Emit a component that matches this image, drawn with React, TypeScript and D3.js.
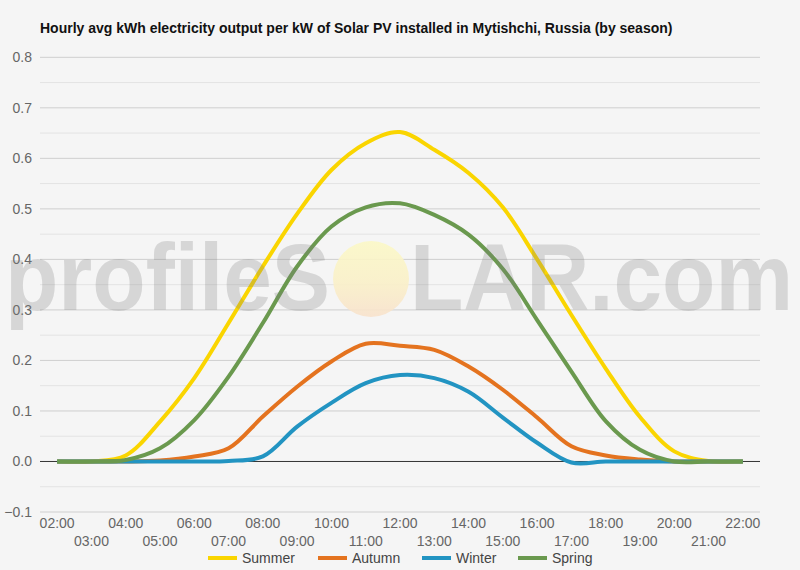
import React from "react";
import * as d3 from "d3";

const hours = ["02:00","03:00","04:00","05:00","06:00","07:00","08:00","09:00","10:00","11:00","12:00","13:00","14:00","15:00","16:00","17:00","18:00","19:00","20:00","21:00","22:00"];

const summer = [0, 0, 0.012, 0.079, 0.165, 0.274, 0.386, 0.49, 0.577, 0.63, 0.652, 0.617, 0.571, 0.503, 0.4, 0.29, 0.184, 0.088, 0.02, 0.001, 0];
const autumn = [0, 0, 0, 0.002, 0.01, 0.026, 0.089, 0.148, 0.198, 0.233, 0.229, 0.221, 0.188, 0.142, 0.087, 0.03, 0.012, 0.004, 0, 0, 0];
const winter = [0, 0, 0, 0, 0, 0.001, 0.01, 0.069, 0.116, 0.155, 0.171, 0.165, 0.138, 0.087, 0.037, -0.002, 0, 0, 0, 0, 0];
const spring = [0, 0, 0.003, 0.026, 0.082, 0.168, 0.274, 0.386, 0.465, 0.503, 0.511, 0.488, 0.449, 0.381, 0.28, 0.178, 0.08, 0.023, 0, 0, 0];

const seriesNames = ["Summer", "Autumn", "Winter", "Spring"];
const seriesColors = ["#fad500", "#e4731f", "#2294c2", "#6a994e"];
const seriesData = [summer, autumn, winter, spring];

const yMajorTicks = [-0.1, 0, 0.1, 0.2, 0.3, 0.4, 0.5, 0.6, 0.7, 0.8];
const yMinorTicks = [-0.05, 0.05, 0.15, 0.25, 0.35, 0.45, 0.55, 0.65, 0.75];

const title = "Hourly avg kWh electricity output per kW of Solar PV installed in Mytishchi, Russia (by season)";

const W = 800, H = 570;
const left = 40, right = 760, top = 57.3, bottom = 512;

export default function App() {
  const x = d3.scaleBand<string>().domain(hours).range([left, right]);
  const cx = (h: string) => (x(h) as number) + x.bandwidth() / 2;
  const y = d3.scaleLinear().domain([-0.1, 0.8]).range([bottom, top]);
  const line = d3.line<number>()
    .x((_, i) => cx(hours[i]))
    .y((d) => y(d))
    .curve(d3.curveCatmullRom.alpha(0.5));
  const font = "Arial, 'Liberation Sans', sans-serif";
  const legendX = [208, 318, 422, 518];

  return (
    <div style={{ position: "fixed", left: 0, top: 0 }}>
      <svg width={W} height={H} style={{ display: "block", fontFamily: font }}>
        <defs>
          <linearGradient id="sun" x1="0" y1="0" x2="0" y2="1">
            <stop offset="0%" stopColor="#fbf8c6" />
            <stop offset="55%" stopColor="#faf0c8" />
            <stop offset="100%" stopColor="#f8e2cc" />
          </linearGradient>
        </defs>
        <rect width={W} height={H} fill="#f5f5f5" />
        <text x={40} y={33} fontSize={14} fontWeight="bold" fill="#111">{title}</text>
        {yMinorTicks.map((t) => (
          <line key={"m" + t} x1={left} x2={right} y1={y(t)} y2={y(t)} stroke="#e3e3e3" strokeWidth={1} />
        ))}
        {yMajorTicks.map((t) => (
          <line key={"g" + t} x1={left} x2={right} y1={y(t)} y2={y(t)}
            stroke={t === 0 ? "#333" : "#cfcfcf"} strokeWidth={1} />
        ))}
        {yMajorTicks.map((t) => (
          <text key={"l" + t} x={32} y={y(t)} dy="0.35em" textAnchor="end" fontSize={14} fill="#666">
            {d3.format(".1f")(t)}
          </text>
        ))}
        {hours.map((h, i) => (
          <text key={h} x={cx(h)} y={i % 2 === 0 ? 528 : 546} textAnchor="middle" fontSize={14} fill="#666">
            {h}
          </text>
        ))}
        {seriesData.map((d, i) => (
          <path key={seriesNames[i]} d={line(d) || ""} fill="none" stroke={seriesColors[i]}
            strokeWidth={4} strokeLinejoin="round" strokeLinecap="butt" />
        ))}
        <g>
          <text x={5} y={310} fontSize={95} fontWeight="bold" fill="#808080" fillOpacity={0.26}
            textLength={325} lengthAdjust="spacingAndGlyphs">profileS</text>
          <circle cx={371} cy={279} r={38} fill="url(#sun)" fillOpacity={0.9} />
          <text x={410} y={310} fontSize={95} fontWeight="bold" fill="#808080" fillOpacity={0.26}
            textLength={383} lengthAdjust="spacingAndGlyphs">LAR.com</text>
        </g>
        {seriesNames.map((n, i) => (
          <g key={n}>
            <line x1={legendX[i]} x2={legendX[i] + 29} y1={558} y2={558} stroke={seriesColors[i]} strokeWidth={4} />
            <text x={legendX[i] + 34} y={558} dy="0.35em" fontSize={14} fill="#444">{n}</text>
          </g>
        ))}
      </svg>
    </div>
  );
}
